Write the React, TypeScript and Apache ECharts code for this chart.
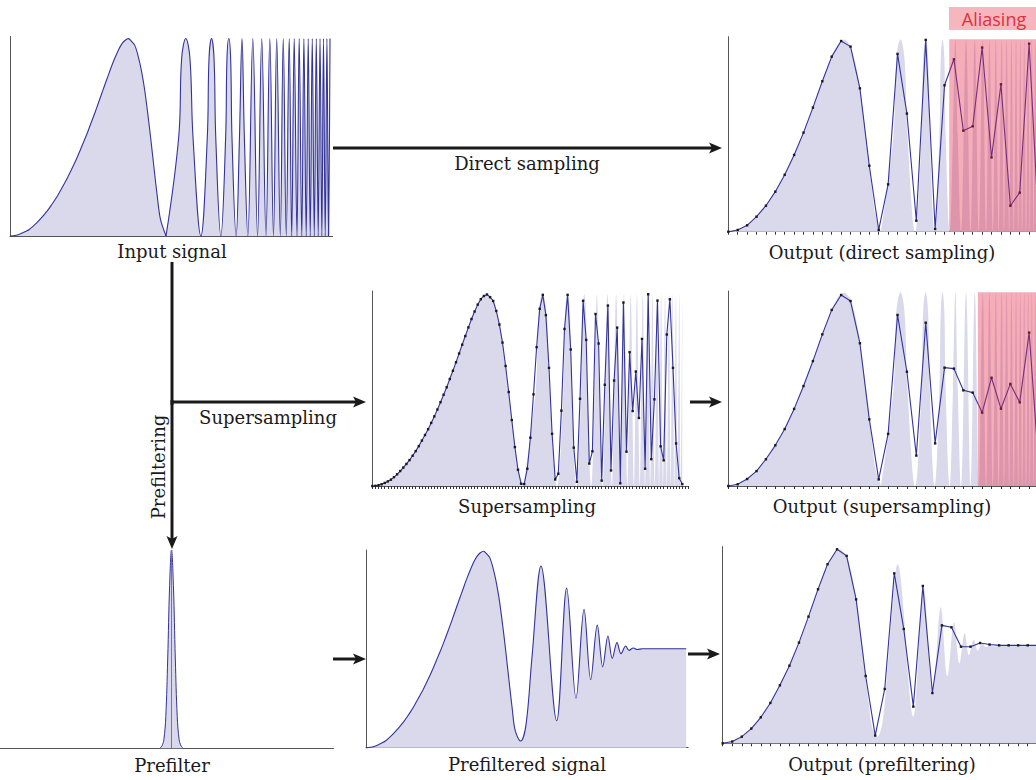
import React, { useEffect, useRef } from "react";
import * as echarts from "echarts";

// ---------- data ----------
// first lobe of the input signal, on the supersampling grid (k = 0..47, t = k/3)
const lobeValues = [0, 0.001, 0.004, 0.009, 0.016, 0.024, 0.033, 0.046, 0.061, 0.078, 0.096, 0.115, 0.135, 0.158, 0.182, 0.208, 0.237, 0.266, 0.296, 0.329, 0.363, 0.399, 0.437, 0.476, 0.515, 0.558, 0.601, 0.645, 0.691, 0.737, 0.782, 0.827, 0.871, 0.91, 0.946, 0.974, 0.991, 0.999, 0.985, 0.965, 0.913, 0.842, 0.748, 0.626, 0.49, 0.344, 0.203, 0.085];
// chirp part of the input signal: troughs, shoulders and peaks (t in output-sample units)
const chirpT = [16.25, 17.57, 17.88, 18.31, 18.74, 19.06, 19.88, 20.55, 20.73, 20.99, 21.25, 21.43, 21.96, 22.46, 22.6, 22.79, 22.98, 23.12, 23.55, 23.9, 24.16, 24.41, 24.77, 25.29, 25.78, 26.22, 26.66, 27.06, 27.44, 27.78, 28.15, 28.46, 28.77, 29.08, 29.34, 29.6, 29.89, 30.12, 30.39, 30.61, 30.85, 31.06, 31.27, 31.48, 31.69, 31.9, 32.1, 32.29, 32.48, 32.65, 32.83, 33.01, 33.17, 33.33];
const chirpV = [0, 0.5, 0.9, 1, 0.9, 0.5, 0, 0.5, 0.9, 1, 0.9, 0.5, 0, 0.5, 0.9, 1, 0.9, 0.5, 0, 0.5, 1, 0.5, 0, 1, 0, 1, 0, 1, 0, 1, 0, 1, 0, 1, 0, 1, 0, 1, 0, 1, 0, 1, 0, 1, 0, 1, 0, 1, 0, 1, 0, 1, 0, 1];
// supersamples k = 48..100
const superTail = [0.012, 0.01, 0.09, 0.252, 0.478, 0.724, 0.924, 0.997, 0.891, 0.616, 0.272, 0.034, 0.064, 0.393, 0.819, 0.997, 0.712, 0.2, 0.022, 0.455, 0.966, 0.762, 0.117, 0.181, 0.897, 0.743, 0.028, 0.528, 0.941, 0.081, 0.55, 0.826, 0.014, 0.957, 0.179, 0.698, 0.391, 0.597, 0.355, 0.767, 0.09, 1.0, 0.14, 0.452, 0.967, 0.207, 0.134, 0.79, 0.974, 0.616, 0.222, 0.041, 0.01];
// outputs, t = 0..33
const directSamples = [0, 0.009, 0.033, 0.078, 0.135, 0.208, 0.296, 0.399, 0.515, 0.645, 0.782, 0.91, 0.991, 0.962, 0.745, 0.343, 0.009, 0.246, 0.924, 0.614, 0.057, 0.997, 0.014, 0.761, 0.896, 0.525, 0.548, 0.957, 0.386, 0.766, 0.135, 0.203, 0.977, 0.041];
const superOutput = [0, 0.009, 0.036, 0.077, 0.138, 0.21, 0.294, 0.398, 0.516, 0.645, 0.783, 0.909, 0.986, 0.955, 0.737, 0.344, 0.034, 0.269, 0.883, 0.59, 0.157, 0.843, 0.22, 0.611, 0.606, 0.494, 0.482, 0.379, 0.559, 0.399, 0.527, 0.432, 0.792, 0.12];
const prefilterOutput = [0, 0.009, 0.034, 0.076, 0.134, 0.208, 0.299, 0.4, 0.519, 0.653, 0.794, 0.923, 1.0, 0.966, 0.742, 0.347, 0.04, 0.28, 0.876, 0.589, 0.189, 0.811, 0.259, 0.608, 0.598, 0.498, 0.498, 0.517, 0.509, 0.505, 0.505, 0.505, 0.505, 0.505];
// prefiltered signal after the first lobe
const pfT = [16.23, 16.8, 17.4, 18.36, 20.01, 21.06, 22.04, 22.88, 23.58, 24.27, 24.84, 25.39, 25.84, 26.34, 26.76, 27.25, 27.6, 28.05, 28.47, 29.0, 33.6];
const pfV = [0.034, 0.12, 0.45, 0.923, 0.137, 0.811, 0.251, 0.703, 0.346, 0.623, 0.411, 0.568, 0.454, 0.534, 0.478, 0.517, 0.495, 0.507, 0.499, 0.503, 0.503];
// prefilter kernel
const kernelX = [-1.2, -1, -0.8, -0.6, -0.4, -0.2, 0, 0.2, 0.4, 0.6, 0.8, 1, 1.2];
const kernelV = [0.002, 0.012, 0.045, 0.16, 0.45, 0.82, 1, 0.82, 0.45, 0.16, 0.045, 0.012, 0.002];
const aliasStartDirect = 23.5;
const aliasStartSuper = 26.55;

const BLUE = "#33339a";
const FILL = "#d9d9eb";
const AXIS = "#555";
const RED = "rgba(228, 40, 72, 0.38)";
const SERIF = '18px "DejaVu Serif", serif';
const INK = "#1a1a1a";

// [left, top, width, height, xmin, xmax, ymax, tick]
const grids: [number, number, number, number, number, number, number, boolean][] = [
  [10, 36.5, 322.6, 199.5, 0, 33.6, 1.01, false], // input
  [728.3, 36.7, 307.7, 195, 0, 32.73, 1.0135, true], // direct out
  [372.3, 291, 316.2, 195, 0, 102, 1.017, true], // supersampling (k units)
  [728.3, 291, 307.7, 195, 0, 32.73, 1.0067, true], // super out
  [0, 550, 333.5, 198.3, -18, 17, 1.0, false], // prefilter
  [366, 550, 322.1, 197.7, 0, 33.8, 1.005, false], // prefiltered
  [722.7, 546.7, 313.3, 196.6, 0, 32.87, 1.0134, true], // prefilter out
];

const inputLobe = lobeValues.map((v, k) => [k / 3, v]).concat([[chirpT[0], chirpV[0]]]);
const inputChirp = chirpT.map((t, i) => [t, chirpV[i]]);
const prefiltered = lobeValues.map((v, k) => [k / 3, v]).concat(pfT.map((t, i) => [t, pfV[i]]));

function area(gi: number, pts: number[][], s: number, outline: boolean, smooth: number): any {
  return {
    type: "line", xAxisIndex: gi, yAxisIndex: gi, showSymbol: false, silent: true, clip: false,
    data: pts.map((p) => [p[0] * s, p[1]]), smooth,
    lineStyle: outline ? { color: BLUE, width: 1.1 } : { opacity: 0, width: 0 },
    areaStyle: { color: FILL, opacity: 1 }, z: 1, emphasis: { disabled: true },
  };
}

function inputSignal(gi: number, s: number, outline: boolean): any[] {
  return [area(gi, inputLobe, s, outline, 0.3), area(gi, inputChirp, s, outline, 0.4)];
}

function samples(gi: number, vals: number[]): any {
  return {
    type: "line", xAxisIndex: gi, yAxisIndex: gi, silent: true, emphasis: { disabled: true }, clip: false,
    data: vals.map((v, i) => [i, v]),
    symbol: "rect", symbolSize: 2.4, showSymbol: true,
    itemStyle: { color: INK }, lineStyle: { color: BLUE, width: 1.1 }, z: 3,
  };
}

function overlay(gi: number, start: number, end: number): any {
  return {
    type: "line", xAxisIndex: gi, yAxisIndex: gi, silent: true, showSymbol: false, clip: false,
    data: [[start, 1], [end, 1]], lineStyle: { opacity: 0, width: 0 },
    areaStyle: { color: RED, opacity: 1 }, z: 5, emphasis: { disabled: true },
  };
}

function arrow(x1: number, y1: number, x2: number, y2: number): any[] {
  const dx = Math.sign(x2 - x1), dy = Math.sign(y2 - y1);
  const L = 13, W = 5.5;
  const bx = x2 - dx * L, by = y2 - dy * L;
  return [
    { type: "line", shape: { x1, y1, x2: x2 - dx * 8, y2: y2 - dy * 8 }, style: { stroke: INK, lineWidth: 3 }, z: 10 },
    {
      type: "polygon",
      shape: { points: dx !== 0 ? [[x2, y2], [bx, by - W], [bx + dx * 3, by], [bx, by + W]] : [[x2, y2], [bx - W, by], [bx, by + dy * 3], [bx + W, by]] },
      style: { fill: INK }, z: 10,
    },
  ];
}

function label(text: string, x: number, y: number, rot = 0): any {
  return {
    type: "text", x, y, rotation: rot, z: 10,
    style: { text, font: SERIF, fill: INK, textAlign: "center", textVerticalAlign: "middle", verticalAlign: "middle" },
  };
}

export default function App() {
  const ref = useRef<HTMLDivElement>(null);
  useEffect(() => {
    if (!ref.current) return;
    const chart = echarts.init(ref.current, null, { renderer: "svg" });
    const grid = grids.map((g) => ({ left: g[0], top: g[1], width: g[2], height: g[3], containLabel: false }));
    const xAxis = grids.map((g, i) => ({
      type: "value", gridIndex: i, min: g[4], max: g[5], interval: 1,
      axisLine: { show: true, onZero: false, lineStyle: { color: AXIS, width: 1 } },
      axisTick: { show: g[7], length: 3, inside: false, lineStyle: { color: "#333", width: 1 } },
      axisLabel: { show: false }, splitLine: { show: false },
    }));
    const yAxis = grids.map((g, i) => ({
      type: "value", gridIndex: i, min: 0, max: g[6],
      axisLine: { show: i !== 4, onZero: false, lineStyle: { color: AXIS, width: 1 } },
      axisTick: { show: false }, axisLabel: { show: false }, splitLine: { show: false },
    }));

    const series: any[] = [
      ...inputSignal(0, 1, true),
      ...inputSignal(1, 1, false),
      samples(1, directSamples),
      overlay(1, aliasStartDirect, 34),
      ...inputSignal(2, 3, false),
      samples(2, lobeValues.concat(superTail)),
      ...inputSignal(3, 1, false),
      samples(3, superOutput),
      overlay(3, aliasStartSuper, 34),
      {
        type: "line", xAxisIndex: 4, yAxisIndex: 4, data: kernelX.map((x, i) => [x, kernelV[i]]), smooth: 0.4,
        showSymbol: false, silent: true, lineStyle: { color: BLUE, width: 1 }, areaStyle: { color: FILL, opacity: 1 }, z: 1,
      },
      {
        type: "line", xAxisIndex: 4, yAxisIndex: 4, data: [[0, 0], [0, 1]], showSymbol: false, silent: true,
        lineStyle: { color: "#7a7a7a", width: 1 }, z: 2,
      },
      area(5, prefiltered, 1, true, 0.35),
      area(6, prefiltered, 1, false, 0.35),
      samples(6, prefilterOutput),
    ];

    const graphic: any[] = [
      ...arrow(333, 148, 722, 148),
      { type: "line", shape: { x1: 172, y1: 262, x2: 172, y2: 405 }, style: { stroke: INK, lineWidth: 3 }, z: 10 },
      ...arrow(172, 400, 172, 549),
      ...arrow(172, 402, 366, 402),
      ...arrow(690, 402, 722, 402),
      ...arrow(333, 659, 366, 659),
      ...arrow(688, 654, 720, 654),
      label("Direct sampling", 527, 163),
      label("Input signal", 172, 251),
      label("Output (direct sampling)", 882, 252),
      label("Supersampling", 268, 417),
      label("Prefiltering", 158, 467, Math.PI / 2),
      label("Supersampling", 527, 506),
      label("Output (supersampling)", 882, 506),
      label("Prefilter", 172, 765),
      label("Prefiltered signal", 527, 764),
      label("Output (prefiltering)", 882, 764),
      { type: "rect", shape: { x: 949, y: 7, width: 90, height: 23 }, style: { fill: "#f6b6be" }, z: 10 },
      {
        type: "text", x: 994, y: 18.5, z: 11,
        style: { text: "Aliasing", font: '18px "Open Sans", sans-serif', fill: "#e2303f", textAlign: "center", textVerticalAlign: "middle", verticalAlign: "middle" },
      },
    ];

    chart.setOption({ animation: false, grid, xAxis, yAxis, series, graphic });
    return () => chart.dispose();
  }, []);
  return <div ref={ref} style={{ position: "fixed", left: 0, top: 0, width: 1036, height: 780, background: "#fff" }} />;
}
